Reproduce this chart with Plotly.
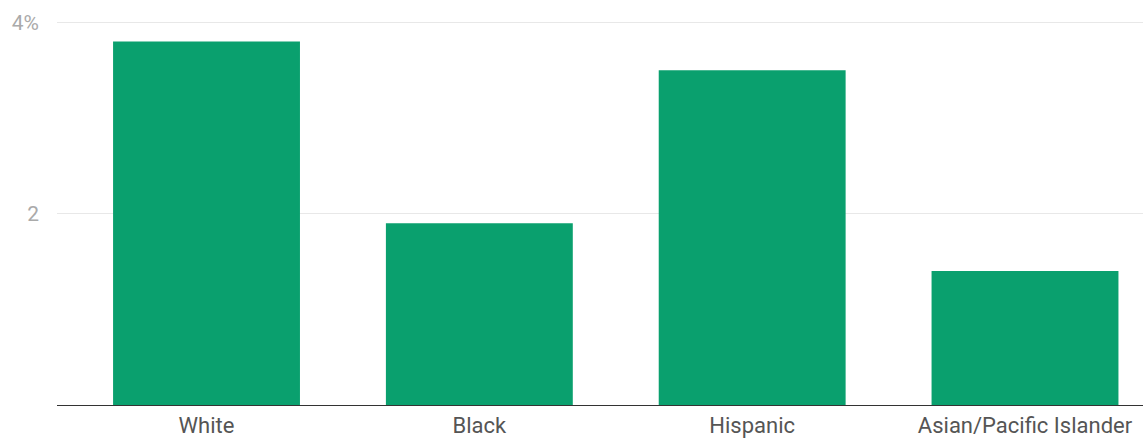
import plotly.graph_objects as go

categories = ["White", "Black", "Hispanic", "Asian/Pacific Islander"]
values = [3.8, 1.9, 3.5, 1.4]
y_tickvals = [2, 4]
y_ticktext = ["2", "4%"]

fig = go.Figure(go.Bar(x=categories, y=values, marker=dict(color="#0aa06e", line=dict(width=0)),
                       hoverinfo="skip"))

fig.update_layout(
    width=1143, height=439,
    margin=dict(l=57, r=0, t=0, b=34),
    paper_bgcolor="white", plot_bgcolor="white",
    bargap=0.315,
    showlegend=False,
    font=dict(family="Roboto", size=22, color="#555"),
)
fig.update_xaxes(range=[-0.548, 3.4325], showline=True, linecolor="#333", linewidth=1,
                 tickfont=dict(color="#555", size=22), ticks="", showgrid=False,
                 ticklabelstandoff=1, automargin=False)
fig.update_yaxes(range=[0, 4.235], tickvals=y_tickvals, ticktext=y_ticktext,
                 showgrid=True, gridcolor="#e8e8e8", gridwidth=1, zeroline=False,
                 tickfont=dict(color="#aaa", size=21), ticklabelstandoff=17, showline=False,
                 automargin=False)

fig.write_html("out.html")
